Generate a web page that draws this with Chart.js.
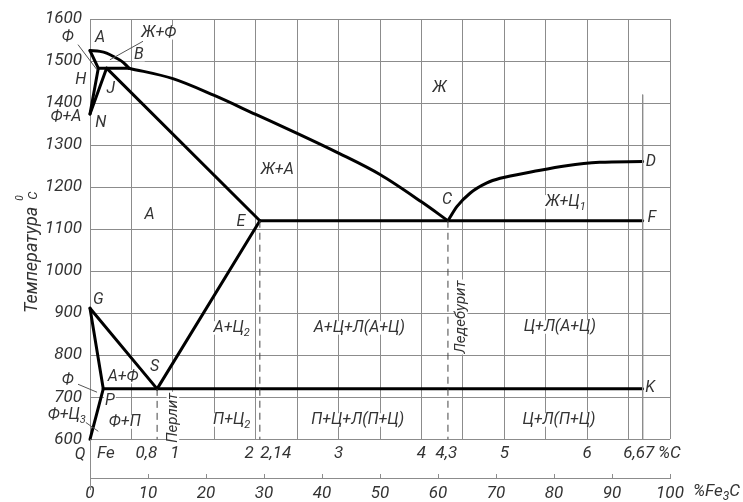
<!DOCTYPE html>
<html>
<head>
<meta charset="utf-8">
<script src="https://cdn.jsdelivr.net/npm/chart.js@4.4.1/dist/chart.umd.min.js"></script>
<style>
  html, body { margin: 0; padding: 0; background: #fff; }
</style>
</head>
<body>
<canvas id="diagrama" width="743" height="502"></canvas>
<script>
// Линии диаграммы Fe-Fe3C: пары [%C, температура]
const linAB = [[0, 1525], [0.12, 1523], [0.2, 1519], [0.3, 1509], [0.4, 1497], [0.47, 1483]];
const linBC = [[0.47, 1483], [1.0, 1458], [1.5, 1418], [2.0, 1373], [2.5, 1328], [3.0, 1281], [3.5, 1230], [4.0, 1165], [4.32, 1120]];
const linCD = [[4.32, 1120], [4.43, 1154], [4.59, 1186], [4.79, 1210], [4.95, 1221], [5.35, 1237], [5.75, 1251], [6.15, 1259], [6.67, 1261]];
const linAH = [[0, 1525], [0.1, 1483]];
const linHJB = [[0.1, 1483], [0.47, 1483]];
const linHN = [[0.1, 1483], [0, 1374]];
const linJN = [[0.2, 1483], [0, 1374]];
const linJE = [[0.2, 1483], [2.05, 1120]];
const linECF = [[2.05, 1120], [6.67, 1120]];
const linGS = [[0, 912], [0.81, 720]];
const linGP = [[0, 912], [0.16, 720]];
const linPQ = [[0.16, 720], [0, 600]];
const linES = [[0.81, 720], [2.05, 1120]];
const linPSK = [[0.16, 720], [6.67, 720]];

// штриховые вертикали и выноски
const strS = [[0.81, 720], [0.81, 600]];
const strE = [[2.05, 1120], [2.05, 600]];
const strC = [[4.32, 1120], [4.32, 600]];
const lin667 = [[6.67, 1420], [6.67, 600]];
const vynoski = [
  [[-0.145, 1539], [0.085, 1479]],
  [[0.64, 1547], [0.24, 1503]],
  [[-0.145, 731], [0.085, 712]],
  [[-0.05, 640], [0.1, 619]]
];

// подписи областей и точек: [текст, %C, T]
const podpisi = [
  ['Ф', -0.27, 1558], ['A', 0.12, 1555], ['Ж+Ф', 0.83, 1567], ['B', 0.59, 1515],
  ['H', -0.11, 1455], ['J', 0.25, 1434], ['Ф+А', -0.29, 1367], ['N', 0.13, 1353],
  ['Ж', 4.22, 1436], ['Ж+А', 2.26, 1241], ['А', 0.72, 1134], ['E', 1.82, 1118],
  ['C', 4.31, 1170], ['D', 6.77, 1260], ['F', 6.78, 1127], ['Ж+Ц_1', 5.74, 1165],
  ['K', 6.76, 723], ['G', 0.1, 932], ['S', 0.78, 772], ['А+Ф', 0.4, 749],
  ['Ф', -0.27, 741], ['P', 0.24, 691], ['Ф+Ц_3', -0.28, 658], ['Ф+П', 0.42, 641],
  ['А+Ц_2', 1.71, 865], ['А+Ц+Л(А+Ц)', 3.25, 865], ['Ц+Л(А+Ц)', 5.67, 867],
  ['П+Ц_2', 1.71, 646], ['П+Ц+Л(П+Ц)', 3.23, 646], ['Ц+Л(П+Ц)', 5.66, 646],
  ['Q', -0.12, 563]
];
const podpisiVert = [['Перлит', 1.0, 651], ['Ледебурит', 4.48, 891]];

// шкала %C под графиком
const znachC = [0, 0.8, 1, 2, 2.14, 3, 4, 4.3, 5, 6, 6.67];
const tekstC = ['Fe', '0,8', '1', '2', '2,14', '3', '4', '4,3', '5', '6', '6,67'];

const FONT = "Roboto, 'Liberation Sans', sans-serif";
const TXT = '#333';
const SETKA = '#8c8c8c';

function seriya(tochki, extra) {
  return Object.assign({
    data: tochki.map(p => ({ x: p[0], y: p[1] })),
    showLine: true,
    borderColor: '#000',
    borderWidth: 3,
    pointRadius: 0,
    fill: false,
    clip: false,
    borderCapStyle: 'round',
    borderJoinStyle: 'round'
  }, extra || {});
}

const tonkaya = { borderWidth: 1, borderColor: '#555', borderCapStyle: 'butt' };
const shtrih = { borderWidth: 1, borderColor: '#444', borderDash: [7, 5], borderCapStyle: 'butt' };
const krivaya = { cubicInterpolationMode: 'monotone' };

const datasets = [
  seriya(strS, shtrih), seriya(strE, shtrih), seriya(strC, shtrih),
  seriya(lin667, { borderWidth: 1, borderColor: SETKA, borderCapStyle: 'butt' }),
  ...vynoski.map(v => seriya(v, tonkaya)),
  seriya(linAB, krivaya), seriya(linBC, krivaya), seriya(linCD, krivaya),
  seriya(linAH), seriya(linHJB), seriya(linHN), seriya(linJN), seriya(linJE),
  seriya(linECF), seriya(linGS), seriya(linGP), seriya(linPQ), seriya(linES), seriya(linPSK)
];

function tekstRich(ctx, tekst, px, py, align, fon, size) {
  const chasti = tekst.split(/_(\d)/);
  const fOsn = `italic ${size}px ${FONT}`;
  const fInd = `italic ${Math.round(size * 0.7)}px ${FONT}`;
  let w = 0;
  chasti.forEach((c, i) => { ctx.font = i % 2 ? fInd : fOsn; w += ctx.measureText(c).width; });
  let x0 = align === 'center' ? px - w / 2 : (align === 'right' ? px - w : px);
  if (fon) {
    ctx.fillStyle = '#fff';
    ctx.fillRect(x0 - 1, py - size * 0.42, w + 2, size * 0.84);
  }
  ctx.fillStyle = TXT;
  ctx.textAlign = 'left';
  ctx.textBaseline = 'middle';
  chasti.forEach((c, i) => {
    ctx.font = i % 2 ? fInd : fOsn;
    ctx.fillText(c, x0, py + (i % 2 ? size * 0.32 : 0));
    x0 += ctx.measureText(c).width;
  });
}

const risovanie = {
  id: 'risovanie',
  afterDatasetsDraw(chart) {
    const { ctx, chartArea } = chart;
    const sx = chart.scales.x, sy = chart.scales.y, sf = chart.scales.xf;
    ctx.save();

    podpisi.forEach(([t, c, temp]) => {
      tekstRich(ctx, t, sx.getPixelForValue(c), sy.getPixelForValue(temp), 'center', true, 16);
    });
    podpisiVert.forEach(([t, c, temp]) => {
      ctx.save();
      ctx.translate(sx.getPixelForValue(c), sy.getPixelForValue(temp));
      ctx.rotate(-Math.PI / 2);
      tekstRich(ctx, t, 0, 0, 'center', true, 15);
      ctx.restore();
    });

    // подписи %C
    const sdvig = { 'Fe': ['left', 7], '0,8': ['right', 1], '1': ['center', 2], '2': ['right', -2], '2,14': ['left', -7], '6,67': ['center', -4] };
    const yC = chartArea.bottom + 14;
    znachC.forEach((v, i) => {
      const [al, dx] = sdvig[tekstC[i]] || ['center', 0];
      tekstRich(ctx, tekstC[i], sx.getPixelForValue(v) + dx, yC, al, false, 17);
    });
    tekstRich(ctx, '%C', sx.getPixelForValue(7) - 12, yC, 'left', false, 17);
    tekstRich(ctx, '%Fe_3C', sf.getPixelForValue(100) + 23, sf.top + 14, 'left', false, 17);

    // продолжение левой оси вниз
    ctx.strokeStyle = SETKA;
    ctx.lineWidth = 1;
    ctx.beginPath();
    ctx.moveTo(Math.round(sx.getPixelForValue(0)) + 0.5, chartArea.bottom);
    ctx.lineTo(Math.round(sx.getPixelForValue(0)) + 0.5, sf.top + 12);
    ctx.stroke();

    // заголовок оси температур
    ctx.translate(37, 313);
    ctx.rotate(-Math.PI / 2);
    ctx.fillStyle = TXT;
    ctx.textAlign = 'left';
    ctx.textBaseline = 'alphabetic';
    ctx.font = `italic 18px ${FONT}`;
    ctx.fillText('Температура', 0, 0);
    const w = ctx.measureText('Температура').width;
    ctx.font = `italic 13px ${FONT}`;
    ctx.fillText('C', w + 7, 0);
    ctx.font = `italic 10px ${FONT}`;
    ctx.fillText('0', w + 6, -14);
    ctx.restore();
  }
};

const tikFont = { family: FONT, size: 17, style: 'italic' };

new Chart(document.getElementById('diagrama'), {
  type: 'scatter',
  data: { datasets: datasets },
  options: {
    responsive: false,
    animation: false,
    devicePixelRatio: 1,
    layout: { padding: { top: 19, right: 73, left: 0, bottom: 0 } },
    plugins: { legend: { display: false }, tooltip: { enabled: false } },
    scales: {
      x: {
        type: 'linear', position: 'bottom', min: 0, max: 7, weight: 0,
        ticks: { stepSize: 0.5, display: false },
        grid: { color: SETKA, lineWidth: 1, drawTicks: false },
        border: { display: false },
        afterFit: s => { s.height = 38.7; }
      },
      xf: {
        type: 'linear', position: 'bottom', min: 0, max: 100, weight: 1,
        ticks: { stepSize: 10, padding: 10, color: TXT, font: tikFont, maxRotation: 0, callback: v => String(v) },
        grid: { drawOnChartArea: false, drawTicks: true, tickLength: -4, color: SETKA },
        border: { display: true, color: SETKA },
        afterFit: s => { s.height = 24; }
      },
      y: {
        type: 'linear', min: 600, max: 1600,
        ticks: { stepSize: 100, padding: 8, color: TXT, font: tikFont, callback: v => String(v) },
        grid: { color: SETKA, lineWidth: 1, drawTicks: false },
        border: { display: false },
        afterFit: s => { s.width = 90; }
      }
    }
  },
  plugins: [risovanie]
});
</script>
</body>
</html>
